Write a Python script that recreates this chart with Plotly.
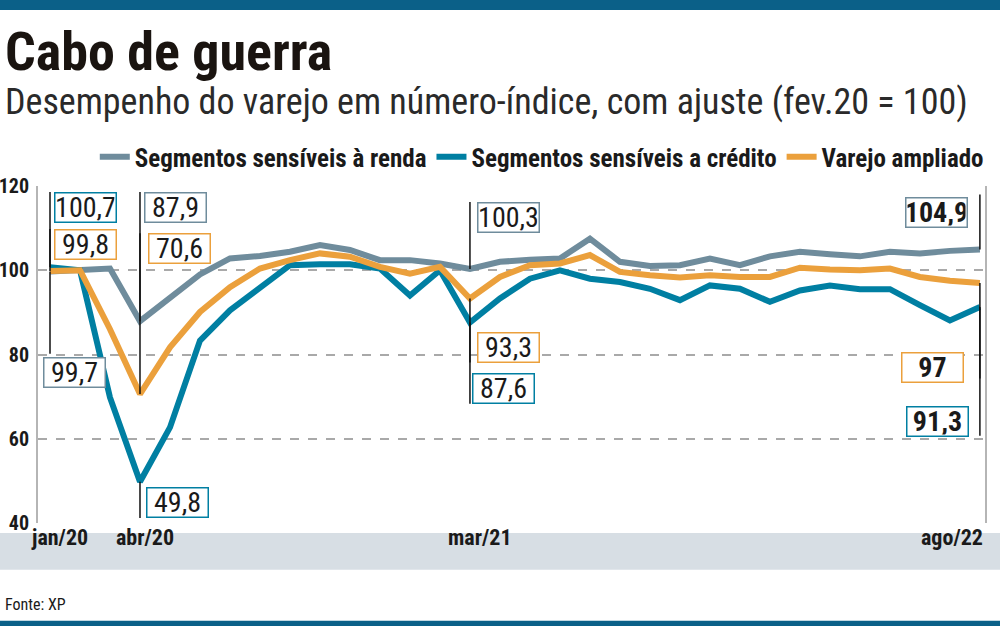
import plotly.graph_objects as go

# Dados (número-índice, fev.20 = 100)
meses = ["jan/20", "fev/20", "mar/20", "abr/20", "mai/20", "jun/20", "jul/20", "ago/20",
         "set/20", "out/20", "nov/20", "dez/20", "jan/21", "fev/21", "mar/21", "abr/21",
         "mai/21", "jun/21", "jul/21", "ago/21", "set/21", "out/21", "nov/21", "dez/21",
         "jan/22", "fev/22", "mar/22", "abr/22", "mai/22", "jun/22", "jul/22", "ago/22"]

renda = [99.7, 100.0, 100.4, 87.9, 93.6, 99.0, 102.8, 103.4, 104.4, 106.0, 104.8, 102.4,
         102.4, 101.6, 100.3, 102.0, 102.5, 102.8, 107.5, 102.0, 101.0, 101.2, 102.8, 101.2,
         103.3, 104.4, 103.8, 103.3, 104.4, 104.0, 104.6, 104.9]

credito = [100.7, 100.0, 69.8, 49.8, 62.7, 83.3, 90.5, 96.0, 101.2, 101.4, 101.4, 100.4,
           94.0, 100.0, 87.6, 93.3, 98.0, 100.0, 98.0, 97.2, 95.6, 92.9, 96.4, 95.6,
           92.5, 95.2, 96.4, 95.5, 95.5, 91.7, 88.1, 91.3]

varejo = [99.8, 100.0, 86.0, 70.6, 81.7, 90.1, 96.0, 100.4, 102.4, 104.0, 103.2, 100.8,
          99.2, 100.8, 93.3, 98.4, 101.2, 101.6, 103.6, 99.6, 98.8, 98.3, 98.8, 98.4,
          98.4, 100.6, 100.2, 100.0, 100.4, 98.4, 97.5, 97.0]

marcos = ["jan/20", "abr/20", "mar/21", "ago/22"]

nomes = ["Segmentos sensíveis à renda", "Segmentos sensíveis a crédito", "Varejo ampliado"]
cores = ["#6f8c9c", "#007fa2", "#eba03c"]

NARROW = "Liberation Sans Narrow, Roboto Condensed, DejaVu Sans Condensed, sans-serif"

fig = go.Figure()
for nome, serie, cor in zip(nomes, [renda, credito, varejo], cores):
    fig.add_trace(go.Scatter(x=meses, y=serie, name=nome, mode="lines",
                             line=dict(color=cor, width=6)))

# rótulos: (série, mês, centro da caixa, ponta da linha, deslocamento, âncora, negrito)
rotulos = [
    (1, "jan/20", 115.0, 118.6, 4, "left", False),
    (2, "jan/20", 106.2, 109.8, 4, "left", False),
    (0, "jan/20", 75.7, 80.2, -7, "left", False),
    (0, "abr/20", 115.0, 118.6, 4, "left", False),
    (2, "abr/20", 105.2, 108.8, 8, "left", False),
    (1, "abr/20", 44.8, 41.2, 6, "left", False),
    (0, "mar/21", 112.6, 116.2, 7, "left", False),
    (2, "mar/21", 81.7, 78.1, 7, "left", False),
    (1, "mar/21", 71.9, 68.3, 2, "left", False),
    (0, "ago/22", 113.7, 118.0, -12, "right", True),
    (2, "ago/22", 77.0, 74.3, -16, "right", True),
    (1, "ago/22", 64.2, 60.7, -11, "right", True),
]
series = [renda, credito, varejo]

for s, mes, yc, ponta, dx, anc, neg in rotulos:
    v = series[s][meses.index(mes)]
    txt = str(int(v)) if v == int(v) else f"{v:.1f}".replace(".", ",")
    if neg:
        txt = f"<b>{txt}</b>"
    fig.add_shape(type="line", xref="x", yref="y", x0=mes, x1=mes, y0=v, y1=ponta,
                  line=dict(color="#111111", width=1.5), layer="above")
    fig.add_annotation(x=mes, y=yc, xref="x", yref="y", text=txt, showarrow=False,
                       xanchor=anc, xshift=dx, width=58, height=26,
                       bgcolor="white", bordercolor=cores[s], borderwidth=1.5, borderpad=1,
                       font=dict(family=NARROW, size=28, color="#1a1a1a"))

# faixa do eixo x
fig.add_shape(type="rect", xref="paper", yref="paper", x0=-0.045, x1=1.02, y0=-0.03, y1=-0.139,
              fillcolor="#d7dee4", line=dict(width=0), layer="below")
deslocs = {"jan/20": (9, "center"), "abr/20": (5, "center"), "mar/21": (10, "center"), "ago/22": (5, "right")}
for m in marcos:
    dx, anc = deslocs[m]
    fig.add_annotation(x=m, y=-0.085, xref="x", yref="paper", text=f"<b>{m}</b>", showarrow=False,
                       xanchor=anc, xshift=dx, font=dict(family=NARROW, size=22, color="#1a1a1a"))

# barras superior e inferior
fig.add_shape(type="rect", xref="paper", yref="paper", x0=-0.045, x1=1.02, y0=1.522, y1=1.56,
              fillcolor="#0b6088", line=dict(width=0))
fig.add_shape(type="rect", xref="paper", yref="paper", x0=-0.045, x1=1.02, y0=-0.29, y1=-0.32,
              fillcolor="#0b6088", line=dict(width=0))

fig.add_annotation(x=-0.037, y=1.40, xref="paper", yref="paper", text="<b>Cabo de guerra</b>",
                   showarrow=False, xanchor="left", yanchor="middle",
                   font=dict(family=NARROW, size=54, color="#1a1410"))
fig.add_annotation(x=-0.037, y=1.250, xref="paper", yref="paper",
                   text="Desempenho do varejo em número-índice, com ajuste (fev.20 = 100)",
                   showarrow=False, xanchor="left", yanchor="middle",
                   font=dict(family=NARROW, size=36, color="#2a2a2a"))
fig.add_annotation(x=-0.037, y=-0.243, xref="paper", yref="paper", text="Fonte: XP",
                   showarrow=False, xanchor="left", yanchor="middle",
                   font=dict(family=NARROW, size=16, color="#1a1a1a"))

fig.update_layout(
    width=1000, height=626,
    margin=dict(l=38, r=15, t=186, b=103, autoexpand=False),
    paper_bgcolor="white", plot_bgcolor="white",
    showlegend=True,
    legend=dict(orientation="h", x=1.004, xanchor="right", y=1.086, yanchor="middle",
                font=dict(family=NARROW, size=25, color="#1a1a1a", weight="bold"),
                itemwidth=30, tracegroupgap=0, bgcolor="rgba(0,0,0,0)"),
    xaxis=dict(type="category", categoryorder="array", categoryarray=meses,
               range=[-0.4, 31.17], showticklabels=False, showgrid=False, zeroline=False,
               showline=False, ticks="", automargin=False),
    yaxis=dict(range=[40, 120], tickvals=[40, 60, 80, 100, 120], showgrid=True,
               gridcolor="#a9a9a9", gridwidth=1.5, griddash="dash", zeroline=False,
               showline=True, linecolor="#b5b5b5", linewidth=2, mirror=True,
               ticks="", ticklabelstandoff=3, automargin=False,
               tickfont=dict(family=NARROW, size=20, color="#1a1a1a", weight="bold")),
)

# a página padrão tem margem de 8px no body
fig.write_html("out.html", config={"displayModeBar": False},
               post_script="document.body.style.margin='0';")
